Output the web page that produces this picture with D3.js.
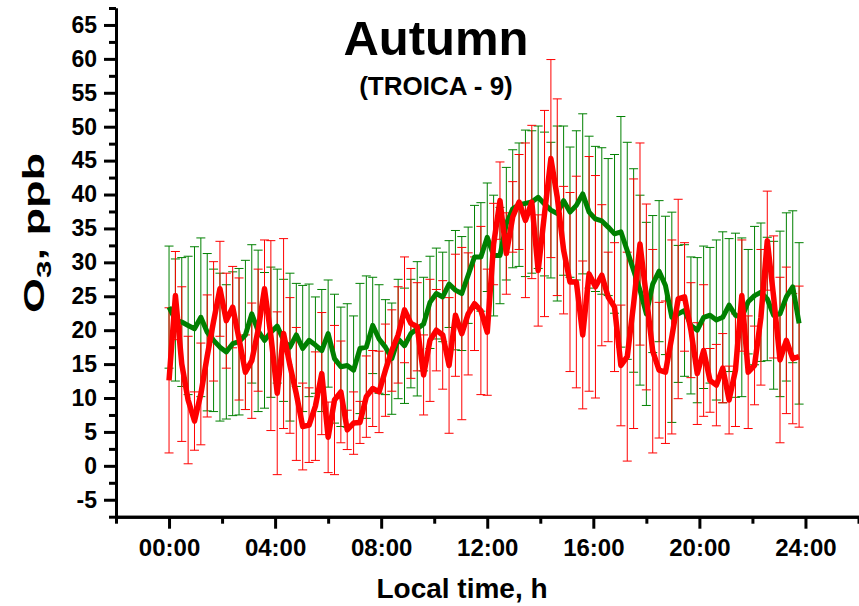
<!DOCTYPE html>
<html>
<head>
<meta charset="utf-8">
<script src="https://cdn.jsdelivr.net/npm/d3@7"></script>
<style>
  html, body { margin: 0; padding: 0; background: #fff; }
  svg { display: block; }
  text { font-family: "Liberation Sans", Arial, sans-serif; font-weight: bold; fill: #000; }
</style>
</head>
<body>
<svg id="chart" width="859" height="606"></svg>
<script>
// ---- data ----
const timeHours = [0,0.24,0.48,0.72,0.96,1.2,1.44,1.68,1.92,2.16,2.4,2.64,2.88,3.12,3.36,3.6,3.84,4.08,4.32,4.56,
  4.8,5.04,5.28,5.52,5.76,6,6.24,6.48,6.72,6.96,7.2,7.44,7.68,7.92,8.16,8.4,8.64,8.88,9.12,9.36,
  9.6,9.84,10.08,10.32,10.56,10.8,11.04,11.28,11.52,11.76,12,12.24,12.48,12.72,12.96,13.2,13.44,13.68,13.92,14.16,
  14.4,14.64,14.88,15.12,15.36,15.6,15.84,16.08,16.32,16.56,16.8,17.04,17.28,17.52,17.76,18,18.24,18.48,18.72,18.96,
  19.2,19.44,19.68,19.92,20.16,20.4,20.64,20.88,21.12,21.36,21.6,21.84,22.08,22.32,22.56,22.8,23.04,23.28,23.52,23.76];

const greenMean = [23.4,21.5,21.2,20.7,20.2,21.9,19.7,18.5,17.5,16.8,
  18.0,18.3,19.3,22.4,19.9,18.5,19.7,20.6,18.5,17.5,
  19.3,17.3,18.5,17.8,17.0,19.5,15.8,14.6,14.8,14.1,
  17.3,17.5,20.7,18.7,17.5,15.8,18.7,17.7,19.5,20.2,
  20.9,24.1,25.4,24.9,26.8,25.9,25.4,28.1,30.8,30.8,
  33.7,31.0,31.0,35.7,37.9,38.5,38.7,38.9,39.6,38.6,
  37.7,37.2,39.1,37.4,38.4,40.1,37.4,36.4,36.1,35.2,
  34.2,34.5,31.7,28.8,25.9,22.4,26.8,28.7,26.6,21.9,
  22.4,22.9,20.7,20.0,21.9,22.2,21.5,21.9,23.7,22.2,
  21.9,24.2,25.1,25.6,24.6,22.2,22.4,24.9,26.4,21.0];

const greenErr = [9.0,9.0,9.5,10.2,12.1,11.7,11.6,10.5,10.9,9.9,
  10.6,10.8,11.0,10.2,11.9,10.0,9.6,8.4,9.0,10.9,
  7.6,9.3,8.3,7.1,9.0,7.9,9.5,8.8,9.1,8.0,
  9.6,10.5,7.1,8.0,7.0,8.2,8.8,8.5,8.0,9.9,
  6.9,6.8,6.7,6.6,6.4,8.8,8.4,7.1,7.6,8.0,
  8.0,8.9,7.1,8.3,8.7,9.1,10.8,10.5,10.5,10.6,
  10.0,12.9,11.0,9.6,11.0,11.8,11.2,10.7,10.8,10.1,
  11.7,17.0,16.0,15.0,14.0,13.5,10.1,10.4,10.2,15.5,
  10.1,9.7,10.1,10.7,10.5,10.0,11.8,12.6,9.8,12.1,
  11.7,7.7,10.2,10.2,9.1,10.9,12.2,12.4,11.2,11.9];

const redMean = [12.6,25.1,15.0,9.7,6.6,10.6,16.2,21.3,26.1,21.4,
  23.4,18.7,13.8,15.5,20.0,26.1,19.2,10.7,19.5,14.8,
  10.6,5.8,6.0,8.8,13.6,4.2,9.7,10.9,5.3,6.3,
  6.4,10.2,11.4,10.9,14.1,17.0,19.3,23.0,21.0,20.5,
  13.4,18.5,20.0,19.3,14.8,22.2,19.5,22.4,23.9,22.9,
  19.7,32.7,39.1,31.3,36.7,38.9,36.2,38.9,28.8,37.2,
  45.3,39.6,31.8,27.1,27.1,19.3,28.3,26.4,28.1,24.9,
  23.4,14.8,16.1,23.9,32.7,24.9,16.9,14.1,13.8,19.0,
  24.6,24.9,20.0,13.6,17.0,12.6,11.9,14.4,9.7,14.1,
  25.1,13.8,14.8,21.9,33.2,24.9,15.6,18.5,15.8,16.1];

const redErr = [10.7,6.5,11.4,9.4,4.3,7.5,9.0,8.8,7.0,7.0,
  6.0,9.0,5.5,8.5,9.0,7.2,14.0,12.0,14.0,10.0,
  9.8,6.4,5.5,8.0,9.0,5.2,11.0,7.5,2.9,4.6,
  3.1,6.0,5.6,6.0,6.8,6.0,7.1,7.8,8.1,6.5,
  5.9,9.0,6.0,8.0,10.0,9.0,12.7,9.0,6.9,12.4,
  9.3,6.0,5.7,6.0,5.2,7.0,11.4,11.3,8.2,15.2,
  14.6,14.5,9.4,13.2,15.6,10.9,17.3,16.4,10.4,6.6,
  9.5,8.9,15.4,18.4,14.9,13.7,15.0,10.0,10.5,14.3,
  14.7,8.0,7.0,7.5,9.7,4.7,6.0,5.1,5.0,8.3,
  8.2,8.3,5.8,10.0,7.3,9.0,12.2,10.8,9.6,10.4];

const xTickValues = [0,4,8,12,16,20,24];
const xTickLabels = ["00:00","04:00","08:00","12:00","16:00","20:00","24:00"];
const xMinorTicks = [-2,2,6,10,14,18,22,26];
const yTickValues = [-5,0,5,10,15,20,25,30,35,40,45,50,55,60,65];
const yMinorTicks = [-7.5,-2.5,2.5,7.5,12.5,17.5,22.5,27.5,32.5,37.5,42.5,47.5,52.5,57.5,62.5,67.5];

const titleText = "Autumn";
const subtitleText = "(TROICA - 9)";
const xTitle = "Local time, h";

// ---- drawing ----
const svg = d3.select("#chart");
const x = d3.scaleLinear().domain([-2, 26]).range([116, 858.5]);
const y = d3.scaleLinear().domain([-7.5, 67.5]).range([516.7, 8]);

const greenCol = "#008000", redCol = "#ff0000";
const capW = 4.5;

function drawErr(mean, err, col) {
  const g = svg.append("g").attr("stroke", col).attr("stroke-width", 1).attr("fill", "none");
  timeHours.forEach((t, i) => {
    const xx = x(t), y1 = y(mean[i] + err[i]), y2 = y(mean[i] - err[i]);
    g.append("line").attr("x1", xx).attr("x2", xx).attr("y1", y1).attr("y2", y2);
    g.append("line").attr("x1", xx - capW).attr("x2", xx + capW).attr("y1", y1).attr("y2", y1);
    g.append("line").attr("x1", xx - capW).attr("x2", xx + capW).attr("y1", y2).attr("y2", y2);
  });
}
drawErr(greenMean, greenErr, greenCol);
drawErr(redMean, redErr, redCol);

const line = d3.line().x(d => x(d[0])).y(d => y(d[1]));
svg.append("path").datum(timeHours.map((t, i) => [t, greenMean[i]]))
  .attr("d", line).attr("fill", "none").attr("stroke", greenCol)
  .attr("stroke-width", 5).attr("stroke-linejoin", "round");
svg.append("path").datum(timeHours.map((t, i) => [t, redMean[i]]))
  .attr("d", line).attr("fill", "none").attr("stroke", redCol)
  .attr("stroke-width", 5.5).attr("stroke-linejoin", "round");

// axes
const yAxis = svg.append("g").attr("transform", "translate(116,0)")
  .call(d3.axisLeft(y).tickValues(yTickValues).tickSize(12).tickSizeOuter(0).tickPadding(7).tickFormat(d => d));
const yMinor = svg.append("g").attr("transform", "translate(116,0)")
  .call(d3.axisLeft(y).tickValues(yMinorTicks).tickSize(7).tickSizeOuter(0).tickFormat(""));
const xAxis = svg.append("g").attr("transform", "translate(0,516.7)")
  .call(d3.axisBottom(x).tickValues(xTickValues).tickSize(12).tickSizeOuter(0).tickPadding(10)
    .tickFormat((d, i) => xTickLabels[i]));
const xMinor = svg.append("g").attr("transform", "translate(0,516.7)")
  .call(d3.axisBottom(x).tickValues(xMinorTicks).tickSize(7).tickSizeOuter(0).tickFormat(""));

[yAxis, yMinor, xAxis, xMinor].forEach(a => {
  a.selectAll("path.domain").attr("stroke", "#000").attr("stroke-width", 3);
  a.selectAll(".tick line").attr("stroke", "#000").attr("stroke-width", 3);
});
yAxis.selectAll("text").style("font-size", "23px").style("font-family", "'Liberation Sans', Arial, sans-serif").style("font-weight", "bold");
xAxis.selectAll("text").style("font-size", "24px").style("font-family", "'Liberation Sans', Arial, sans-serif").style("font-weight", "bold");

// titles
svg.append("text").attr("x", 436).attr("y", 55).attr("text-anchor", "middle")
  .style("font-size", "49px").text(titleText);
svg.append("text").attr("x", 436).attr("y", 95).attr("text-anchor", "middle")
  .style("font-size", "26px").text(subtitleText);
svg.append("text").attr("x", 462).attr("y", 598).attr("text-anchor", "middle")
  .style("font-size", "28px").text(xTitle);

const yt = svg.append("text").attr("transform", "translate(43.5,233) rotate(-90) scale(1.5,1)")
  .attr("text-anchor", "middle").style("font-size", "30px");
yt.append("tspan").text("O");
yt.append("tspan").attr("dy", 7).style("font-size", "21px").text("3");
yt.append("tspan").attr("dy", -7).text(", ppb");
</script>
</body>
</html>
